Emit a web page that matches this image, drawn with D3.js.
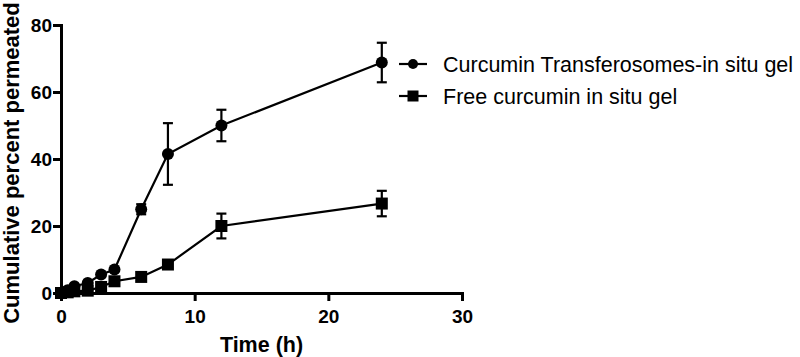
<!DOCTYPE html>
<html lang="en">
<head>
<meta charset="UTF-8">
<title>Cumulative percent permeated</title>
<script src="https://d3js.org/d3.v7.min.js"></script>
<style>
    body { margin: 0; background: #fff; }
    .axis text { font: bold 19px "Liberation Sans", Arial, sans-serif; fill: #000; }
    .axis path, .axis line { stroke: #000; stroke-width: 3; fill: none; }
    .label { font: bold 21.5px "Liberation Sans", Arial, sans-serif; }
    .ylabel { font: bold 22px "Liberation Sans", Arial, sans-serif; }
    .legend text { font: 21.5px "Liberation Sans", Arial, sans-serif; }
</style>
</head>
<body>
<script>
// time points (h)
const times = [0, 0.5, 1, 2, 3, 4, 6, 8, 12, 24];

// Curcumin Transferosomes-in situ gel
const transMean = [0, 0.8, 2, 3, 5.5, 7, 25, 41.5, 50, 68.8];
const transSD   = [0, 0, 0, 0, 0, 0, 1.5, 9.2, 4.7, 5.9];

// Free curcumin in situ gel
const freeMean = [0, 0.2, 0.5, 0.7, 1.8, 3.5, 4.8, 8.5, 20, 26.7];
const freeSD   = [0, 0, 0, 0, 0, 0, 0, 0, 3.7, 3.8];

const xTicks = [0, 10, 20, 30];
const yTicks = [0, 20, 40, 60, 80];
const seriesNames = ["Curcumin Transferosomes-in situ gel", "Free curcumin in situ gel"];

const margin = {top: 25, left: 61};
const width = 401, height = 268;

const svg = d3.select("body").append("svg")
    .attr("width", 800)
    .attr("height", 357);

const g = svg.append("g").attr("transform", `translate(${margin.left},${margin.top})`);

const x = d3.scaleLinear().domain([0, 30]).range([0, width]);
const y = d3.scaleLinear().domain([0, 80]).range([height, 0]);

// axes
g.append("g").attr("class", "axis")
    .attr("transform", `translate(0,${height})`)
    .call(d3.axisBottom(x).tickValues(xTicks).tickSize(8).tickSizeOuter(0).tickPadding(9));
g.append("g").attr("class", "axis")
    .call(d3.axisLeft(y).tickValues(yTicks).tickSize(8).tickSizeOuter(0).tickPadding(1));

g.selectAll(".axis path").attr("stroke-linecap", "square");

// labels
svg.append("text").attr("class", "label")
    .attr("x", margin.left + width / 2).attr("y", 352)
    .attr("text-anchor", "middle")
    .text("Time (h)");
svg.append("text").attr("class", "ylabel")
    .attr("transform", "translate(19,163) rotate(-90)")
    .attr("text-anchor", "middle")
    .text("Cumulative percent permeated");

const series = [
    {mean: transMean, sd: transSD, shape: "circle"},
    {mean: freeMean, sd: freeSD, shape: "square"}
];

const line = d3.line().x(d => x(d.t)).y(d => y(d.v));

function drawMarker(sel, shape) {
    if (shape === "circle") {
        sel.append("circle").attr("r", 6).attr("fill", "#000");
    } else {
        sel.append("rect").attr("x", -6).attr("y", -6)
            .attr("width", 12).attr("height", 12).attr("fill", "#000");
    }
}

series.forEach(s => {
    const pts = times.map((t, i) => ({t: t, v: s.mean[i], e: s.sd[i]}));

    g.append("path").datum(pts)
        .attr("d", line)
        .attr("fill", "none")
        .attr("stroke", "#000")
        .attr("stroke-width", 2.2);

    // error bars
    const eb = g.selectAll(null).data(pts.filter(d => d.e > 0)).enter().append("g")
        .attr("stroke", "#000").attr("stroke-width", 2.2);
    eb.append("line")
        .attr("x1", d => x(d.t)).attr("x2", d => x(d.t))
        .attr("y1", d => y(d.v + d.e)).attr("y2", d => y(d.v - d.e));
    eb.append("line")
        .attr("x1", d => x(d.t) - 5).attr("x2", d => x(d.t) + 5)
        .attr("y1", d => y(d.v + d.e)).attr("y2", d => y(d.v + d.e));
    eb.append("line")
        .attr("x1", d => x(d.t) - 5).attr("x2", d => x(d.t) + 5)
        .attr("y1", d => y(d.v - d.e)).attr("y2", d => y(d.v - d.e));

    g.selectAll(null).data(pts).enter().append("g")
        .attr("transform", d => `translate(${x(d.t)},${y(d.v)})`)
        .each(function() { drawMarker(d3.select(this), s.shape); });
});

// legend
const legend = svg.append("g").attr("class", "legend").attr("transform", "translate(399,64)");
seriesNames.forEach((name, i) => {
    const row = legend.append("g").attr("transform", `translate(0,${i * 32})`);
    row.append("line").attr("x1", 0).attr("x2", 28)
        .attr("stroke", "#000").attr("stroke-width", 2.2);
    const m = row.append("g").attr("transform", "translate(14,0)");
    if (series[i].shape === "circle") {
        m.append("circle").attr("r", 5).attr("fill", "#000");
    } else {
        m.append("rect").attr("x", -5.5).attr("y", -5.5).attr("width", 11).attr("height", 11).attr("fill", "#000");
    }
    row.append("text").attr("x", 44).attr("y", 8).text(name);
});
</script>
</body>
</html>
